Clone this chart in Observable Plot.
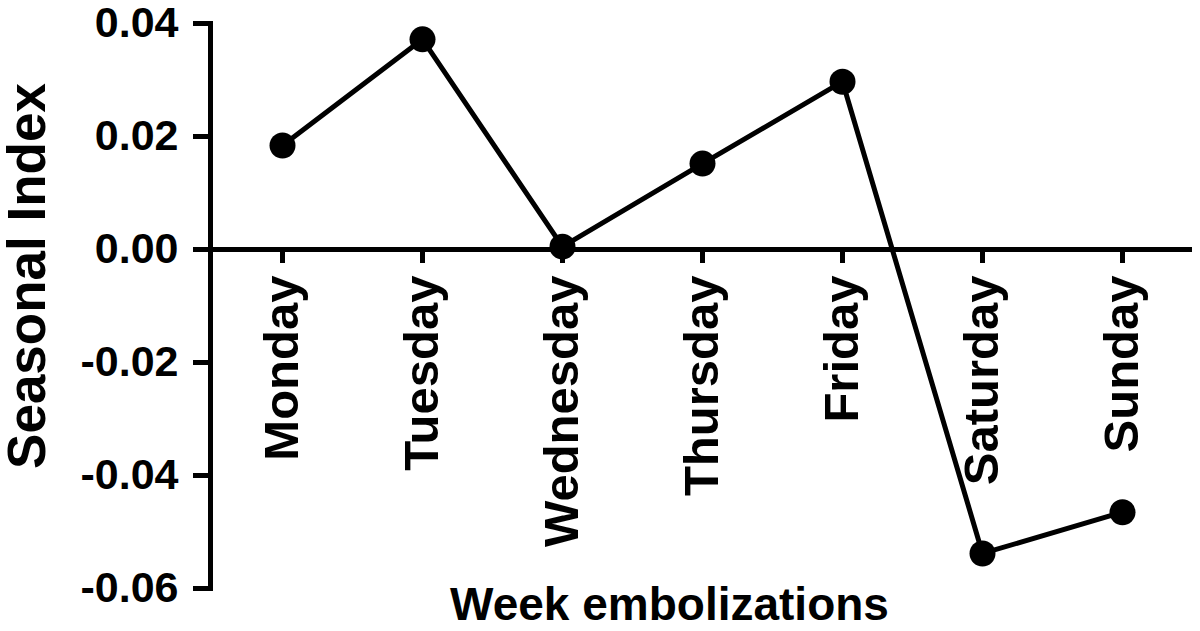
<!DOCTYPE html>
<html>
<head>
<meta charset="utf-8">
<script src="https://cdn.jsdelivr.net/npm/d3@7"></script>
<script src="https://cdn.jsdelivr.net/npm/@observablehq/plot@0.6"></script>
<style>
  html, body { margin: 0; padding: 0; background: #fff; }
  #chart svg { display: block; }
</style>
</head>
<body>
<div id="chart"></div>
<script>
const days = ["Monday", "Tuesday", "Wednesday", "Thursday", "Friday", "Saturday", "Sunday"];
const seasonalIndex = [0.0184, 0.0372, 0.0005, 0.0152, 0.0297, -0.0538, -0.0465];
const yTicks = [-0.06, -0.04, -0.02, 0.00, 0.02, 0.04];
const yLabel = "Seasonal Index";
const xLabel = "Week embolizations";

const data = days.map((d, i) => ({day: d, value: seasonalIndex[i]}));

const chart = Plot.plot({
  width: 1200,
  height: 631,
  marginLeft: 210,
  marginRight: 8,
  marginTop: 23,
  marginBottom: 43,
  style: {fontFamily: "'Liberation Sans', Arial, Helvetica, sans-serif", fontWeight: "bold", color: "#000", background: "#fff"},
  x: {type: "point", domain: days, range: [212, 1192], padding: 0.5, axis: null},
  y: {domain: [-0.06, 0.04], axis: null},
  marks: [
    Plot.axisY({ticks: yTicks, tickSize: 17, tickPadding: 15, strokeWidth: 5, fontSize: 43, tickFormat: d => d.toFixed(2), label: null}),
    Plot.frame({anchor: "left", strokeWidth: 5}),
    Plot.ruleY([0], {strokeWidth: 5}),
    Plot.ruleX(days, {x: d => d, y1: 0, y2: 0, insetBottom: -14, strokeWidth: 5}),
    Plot.text(days, {x: d => d, y: 0, text: d => d, rotate: -90, textAnchor: "end", dy: 26, fontSize: 49, fontWeight: "bold"}),
    Plot.line(data, {x: "day", y: "value", strokeWidth: 5, stroke: "#000"}),
    Plot.dot(data, {x: "day", y: "value", r: 13, fill: "#000"}),
    Plot.text([yLabel], {frameAnchor: "left", text: d => d, rotate: -90, textAnchor: "middle", dx: -182, dy: -30, fontSize: 53, fontWeight: "bold"}),
    Plot.text([xLabel], {frameAnchor: "bottom", text: d => d, textAnchor: "middle", dx: -32, dy: 31, fontSize: 46, fontWeight: "bold"})
  ]
});
document.getElementById("chart").appendChild(chart);
</script>
</body>
</html>
